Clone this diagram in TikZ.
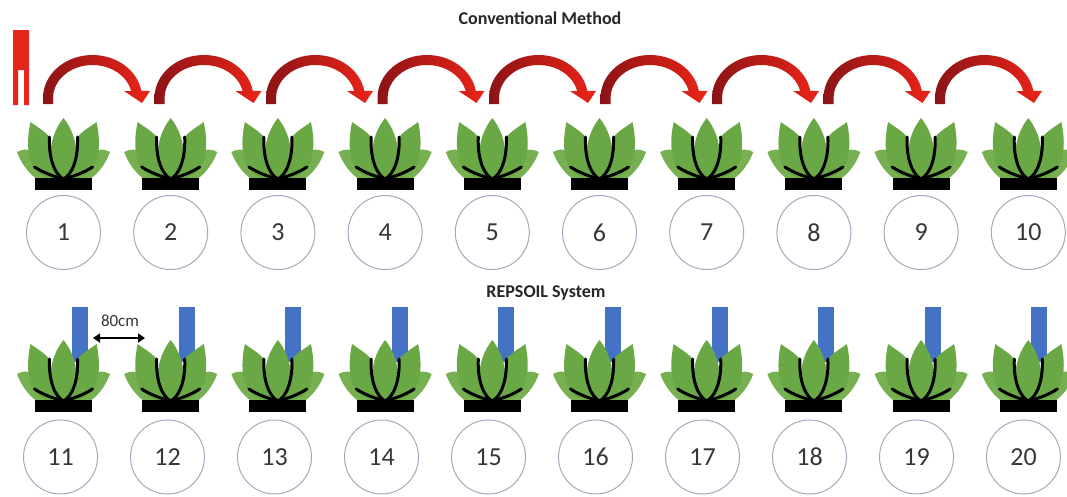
\documentclass[tikz,border=0pt]{standalone}
\usepackage{fontspec}
\setmainfont{Carlito}
\usetikzlibrary{arrows.meta}
\definecolor{leafgreen}{RGB}{106,168,69}
\definecolor{leafpale}{RGB}{118,176,80}
\definecolor{probered}{RGB}{228,38,28}
\definecolor{arrowdark}{RGB}{140,20,22}
\definecolor{arrowbright}{RGB}{236,36,24}
\definecolor{sensorblue}{RGB}{68,114,196}
\definecolor{ringgray}{RGB}{160,172,190}
\definecolor{numgray}{RGB}{55,55,55}
\begin{document}
\begin{tikzpicture}[x=1pt,y=1pt,
  leaf/.style={fill=leafgreen},
  outerleaf/.style={fill=leafpale},
  vein/.style={draw=black,line width=3pt,line cap=round},
  ring/.style={circle,draw=ringgray,line width=1pt,minimum size=74pt,inner sep=0pt,
    font=\fontsize{26}{30}\selectfont,text=numgray},
  title/.style={font=\bfseries\fontsize{18}{22}\selectfont,text=black!85},
  gaplabel/.style={font=\fontsize{17}{20}\selectfont,text=numgray},
  gaparrow/.style={line width=2.2pt,{Triangle[length=7pt,width=9pt]}-{Triangle[length=7pt,width=9pt]}},
  hop/.style={left color=arrowdark,right color=arrowbright},
  plant/.pic={
    % outer petals
    \fill[outerleaf] (0,12) -- (-28,12) .. controls (-36,18) and (-43,28) .. (-46.5,38)
      .. controls (-36,44) and (-24,38) .. (-14,28) -- cycle;
    \fill[outerleaf] (0,12) -- (28,12) .. controls (36,18) and (43,28) .. (46.5,38)
      .. controls (36,44) and (24,38) .. (14,28) -- cycle;
    % side petals
    \fill[leaf] (-1,11) .. controls (-8,14) and (-15,30) .. (-14,53)
      .. controls (-20,60) and (-28,64) .. (-33,68)
      .. controls (-37,50) and (-37,28) .. (-26,18)
      .. controls (-18,12) .. (-1,11) -- cycle;
    \fill[leaf] (1,11) .. controls (8,14) and (15,30) .. (14,53)
      .. controls (20,60) and (28,64) .. (33,68)
      .. controls (37,50) and (37,28) .. (26,18)
      .. controls (18,12) .. (1,11) -- cycle;
    % central petal
    \fill[leaf] (0,10) .. controls (-18,22) and (-16,52) .. (0,72)
      .. controls (16,52) and (18,22) .. (0,10);
    % dark outlines between the petals
    \draw[vein] (-14,53) .. controls (-15,30) and (-8,15) .. (0,11);
    \draw[vein] (14,53) .. controls (15,30) and (8,15) .. (0,11);
    \draw[vein] (-29,23) .. controls (-20,17) and (-8,13) .. (0,11);
    \draw[vein] (29,23) .. controls (20,17) and (8,13) .. (0,11);
    % pot
    \fill[black] (-28.5,0) rectangle (28.5,12.5);
  }
]
\useasboundingbox (0,0) rectangle (1067,-496);
\fill[white] (0,0) rectangle (1067,-496);

% headings
\node[title] (convtitle) at (540,-18) {Conventional Method};
\node[title] (reptitle) at (546,-293) {REPSOIL System};

% hand probe
\fill[probered] (13,-30) -- (29,-30) -- (29,-105) -- (24,-105) -- (24,-70)
  -- (18,-70) -- (18,-105) -- (13,-105) -- cycle;

% curved hops of the probe from plant to plant
\foreach \i in {0,...,8} {
  \pgfmathsetmacro\ax{43+111.5*\i}
  \shade[hop] (\ax,-104) -- (\ax,-98)
    arc[start angle=180,end angle=9.4,x radius=49.5,y radius=43]
    -- ({\ax+107},-91) -- ({\ax+99},-103) -- ({\ax+81},-91) -- ({\ax+88.1},-91)
    arc[start angle=12.25,end angle=180,x radius=39.5,y radius=33]
    -- ({\ax+10},-104) -- cycle;
}

% fixed sensors behind the second row
\foreach \i in {0,...,9} {
  \fill[sensorblue] ({72+106.6*\i},-307) rectangle ({88+106.6*\i},-362);
}

% plants
\foreach \i in {0,...,9} {
  \pic at ({63.5+107.2*\i},-190) {plant};
  \pic at ({63.5+107.2*\i},-412) {plant};
}

% numbered positions
\foreach \i in {1,...,10} {
  \node[ring] (c\i) at ({63.5+107.2*(\i-1)},-232.5) {\i};
}
\foreach \i [evaluate=\i as \j using int(\i+10)] in {1,...,10} {
  \node[ring] (c\j) at ({60.5+107*(\i-1)},-457) {\j};
}

% spacing between sensors
\coordinate (gapL) at (93,-338);
\coordinate (gapR) at (145,-338);
\draw[gaparrow] (gapL) -- (gapR);
\node[gaplabel] (gaptext) at (120,-321) {80cm};
\end{tikzpicture}
\end{document}
